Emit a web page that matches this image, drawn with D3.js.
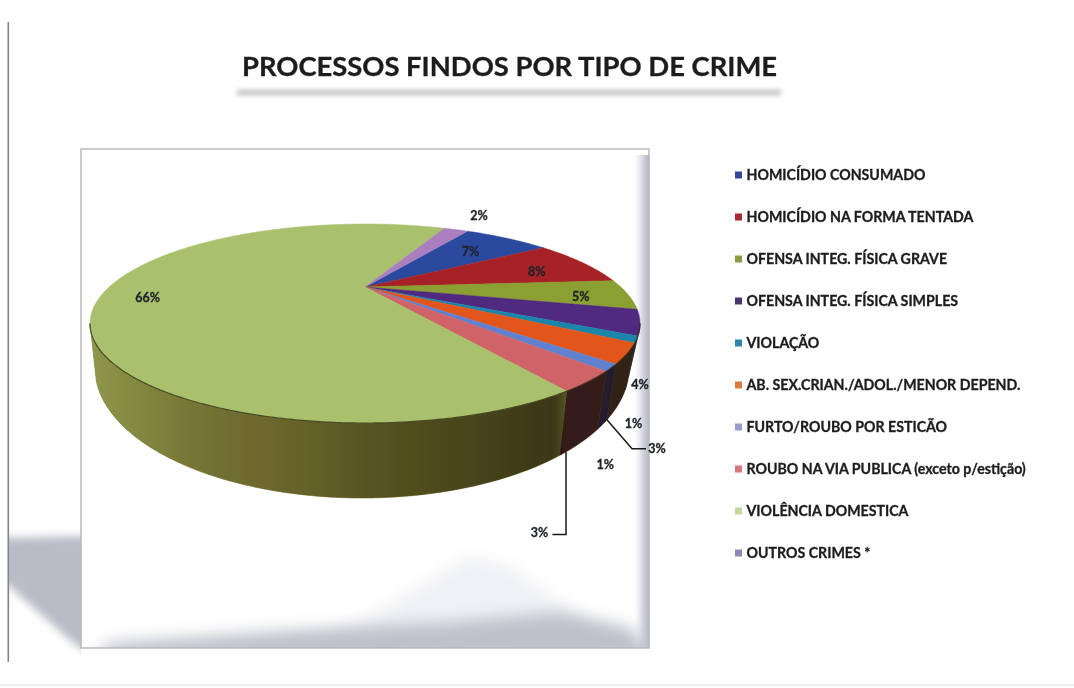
<!DOCTYPE html>
<html lang="pt">
<head>
<meta charset="utf-8">
<title>Processos findos por tipo de crime</title>
<script src="https://cdn.jsdelivr.net/npm/d3@7/dist/d3.min.js"></script>
<style>
  html, body { margin: 0; padding: 0; background: #fff; }
  svg { display: block; }
  text { font-family: Lato, "Open Sans", sans-serif; font-weight: 700; stroke: currentColor; stroke-width: 0.3px; }
</style>
</head>
<body>
<svg id="chart" width="1074" height="688"></svg>
<script>
// Categories and their shares (percent), in drawing order.
const categories = [
  "HOMICÍDIO CONSUMADO",
  "HOMICÍDIO NA FORMA TENTADA",
  "OFENSA INTEG. FÍSICA GRAVE",
  "OFENSA INTEG. FÍSICA SIMPLES",
  "VIOLAÇÃO",
  "AB. SEX.CRIAN./ADOL./MENOR DEPEND.",
  "FURTO/ROUBO POR ESTICÃO",
  "ROUBO NA VIA PUBLICA (exceto p/estição)",
  "VIOLÊNCIA DOMESTICA",
  "OUTROS CRIMES *"
];
const shares = [7, 8, 5, 4, 1, 3, 1, 3, 66, 2];

// Slice colours on the top face, the side wall and the legend key.
const topColors = ["#2b4a9f", "#a62326", "#8b9f30", "#50297f", "#1c86aa", "#e2561c", "#6080d0", "#cf6368", "#a9c06d", "#a97fbf"];
const wallColors = ["#2b2f55", "#4a2020", "#55561f", "#2c2438", "#2a2a30", "#3e2a1c", "#2e2638", "#40221f", "#6b6a2c", "#55406a"];
const keyColors = ["#35479a", "#a52a35", "#8a9c3c", "#4a3570", "#2d87ab", "#e07a3c", "#9c9ccc", "#d9777a", "#c3d89a", "#8a8ab5"];

// Label placement: offset from the middle of each slice's rim.
const labelOffsets = [[-36, 13], [-45, 9], [-47, 2], [0, 62], [-3, 84], [30, 95], [-6, 97], [-49, 151], [45, 4], [23, -14]];

const rad = Math.PI / 180;
const svg = d3.select("#chart");
const defs = svg.append("defs");

// Pie layout: the first slice begins just past twelve o'clock and runs clockwise.
const firstAngle = 31.7 * rad;
const arcs = d3.pie().sort(null).startAngle(firstAngle).endAngle(firstAngle + 2 * Math.PI)(shares);

// Top face: a circle seen in perspective, so the hub sits above the ellipse centre.
const hub = { x: 365, y: 287 };
const persp = { k: 0.367, rx: 255.8, ry: 86.1 };
function rimPoint(a, r = 1) {
  const sx = Math.sin(a) * r, sy = -Math.cos(a) * r;
  const w = 1 - persp.k * sy;
  return [hub.x + persp.rx * sx / w, hub.y + persp.ry * sy / w];
}

// Lower edge of the wall: a second ellipse, reached by carrying the rim point's
// normalised horizontal position across to it.
const topEllipse = { cx: 363.5, rx: 275 };
const lowEllipse = { cx: 362, cy: 368, rx: 267, ry: 130 };
function lowPoint(a) {
  const u = Math.max(-1, Math.min(1, (rimPoint(a)[0] - topEllipse.cx) / topEllipse.rx));
  return [lowEllipse.cx + lowEllipse.rx * u, lowEllipse.cy + lowEllipse.ry * Math.sqrt(1 - u * u)];
}
const sweep = (a0, a1) => {
  const n = Math.max(2, Math.ceil((a1 - a0) / (0.5 * rad)));
  return d3.range(n + 1).map(i => a0 + (a1 - a0) * i / n);
};
const line = d3.line();

// ---- Page furniture ----
function blurFilter(id, deviation, margin) {
  defs.append("filter").attr("id", id)
    .attr("x", `-${margin}%`).attr("y", `-${margin}%`)
    .attr("width", `${100 + 2 * margin}%`).attr("height", `${100 + 2 * margin}%`)
    .append("feGaussianBlur").attr("stdDeviation", deviation);
}
blurFilter("rule", 2.6, 200);
blurFilter("soft4", 4, 20);
blurFilter("soft8", 8, 40);
blurFilter("textSoft", 0.45, 5);
blurFilter("edgeSoft", 0.5, 5);

svg.append("rect").attr("width", 1074).attr("height", 688).attr("fill", "#fff");
svg.append("rect").attr("x", 0).attr("y", 684).attr("width", 1074).attr("height", 2).attr("fill", "#ececec").attr("filter", "url(#edgeSoft)");

// Title and the soft rule underneath it.
svg.append("rect").attr("x", 237).attr("y", 90).attr("width", 544).attr("height", 5).attr("fill", "#bdbdbd").attr("filter", "url(#rule)");
svg.append("text").attr("x", 509.5).attr("y", 76).attr("text-anchor", "middle").attr("font-size", 27.4)
  .attr("fill", "#1c1c1c").style("color", "#1c1c1c").attr("filter", "url(#textSoft)").text("PROCESSOS FINDOS POR TIPO DE CRIME");

// Drop shadow falling to the left of the panel.
defs.append("clipPath").attr("id", "leftClip").append("rect").attr("x", 9).attr("y", 500).attr("width", 72).attr("height", 160);
svg.append("g").attr("clip-path", "url(#leftClip)")
  .append("path").attr("d", line([[0, 538], [90, 536], [90, 655], [70, 640], [11, 588], [0, 580]]))
  .attr("fill", "#b8bcc6").attr("filter", "url(#soft4)");
svg.append("rect").attr("x", 7.5).attr("y", 22).attr("width", 1.6).attr("height", 640).attr("fill", "#7f838b").attr("filter", "url(#edgeSoft)");

// Panel with bevelled right and bottom edges.
const panel = { x: 81, y: 149, w: 568, h: 499 };
defs.append("clipPath").attr("id", "panelClip").append("rect")
  .attr("x", panel.x).attr("y", panel.y).attr("width", panel.w).attr("height", panel.h);
svg.append("rect").attr("x", panel.x).attr("y", panel.y).attr("width", panel.w).attr("height", panel.h).attr("fill", "#fff");
const bevel = svg.append("g").attr("clip-path", "url(#panelClip)");
const rightBand = defs.append("linearGradient").attr("id", "rightBand");
rightBand.append("stop").attr("offset", 0).attr("stop-color", "#fff").attr("stop-opacity", 0);
rightBand.append("stop").attr("offset", 0.6).attr("stop-color", "#d6d8df");
rightBand.append("stop").attr("offset", 1).attr("stop-color", "#b4b8c4");
bevel.append("rect").attr("x", 632).attr("y", 155).attr("width", 17).attr("height", 493).attr("fill", "url(#rightBand)");
bevel.append("path").attr("d", line([[330, 640], [470, 556], [510, 566], [625, 650], [645, 670], [85, 670]]))
  .attr("fill", "#f0f1f4").attr("filter", "url(#soft8)");
bevel.append("path").attr("d", line([[90, 662], [110, 643], [300, 630], [450, 622], [560, 612], [630, 628], [660, 660]]))
  .attr("fill", "#bec1cb").attr("filter", "url(#soft8)");
svg.append("rect").attr("x", panel.x).attr("y", panel.y).attr("width", panel.w).attr("height", panel.h)
  .attr("fill", "none").attr("stroke", "#b4b6bb").attr("stroke-width", 1.4).attr("filter", "url(#edgeSoft)");

// ---- Pie ----
const pie = svg.append("g").attr("filter", "url(#edgeSoft)");

// Visible part of the wall runs between the two points where the rim is widest.
const wallFrom = Math.acos(-persp.k);
const wallTo = 2 * Math.PI - wallFrom;
arcs.forEach((d, i) => {
  for (const turn of [0, 2 * Math.PI]) {
    const a0 = Math.max(d.startAngle - turn, wallFrom);
    const a1 = Math.min(d.endAngle - turn, wallTo);
    if (a1 <= a0) continue;
    const steps = sweep(a0, a1);
    const outline = steps.map(a => rimPoint(a)).concat(steps.slice().reverse().map(a => lowPoint(a)));
    pie.append("path").attr("d", line(outline) + "Z").attr("fill", wallColors[i]).attr("stroke", wallColors[i]).attr("stroke-width", 0.6);
  }
});

// Side light: the wall brightens toward the left and falls steadily into shade on the right.
const wallLight = defs.append("linearGradient").attr("id", "wallLight").attr("gradientUnits", "userSpaceOnUse")
  .attr("x1", 89).attr("x2", 640).attr("y1", 0).attr("y2", 0);
[[0, "#a8b860", 0.6], [0.12, "#98a050", 0.45], [0.3, "#7a6a38", 0.2], [0.5, "#2a2208", 0.3], [0.84, "#1a1408", 0.6], [0.87, "#000", 0.15], [1, "#000", 0.25]].forEach(s => {
  wallLight.append("stop").attr("offset", s[0]).attr("stop-color", s[1]).attr("stop-opacity", s[2]);
});
const wallSteps = sweep(wallFrom, wallTo);
const wallOutline = wallSteps.map(a => rimPoint(a)).concat(wallSteps.slice().reverse().map(a => lowPoint(a)));
pie.append("path").attr("d", line(wallOutline) + "Z").attr("fill", "url(#wallLight)");

// Top face slices.
arcs.forEach((d, i) => {
  const outline = [[hub.x, hub.y]].concat(sweep(d.startAngle, d.endAngle).map(a => rimPoint(a)));
  pie.append("path").attr("d", line(outline) + "Z").attr("fill", topColors[i]).attr("stroke", topColors[i]).attr("stroke-width", 0.5);
});

// Dark edge where the top face meets the wall.
pie.append("path").attr("d", line(wallSteps.map(a => rimPoint(a))))
  .attr("fill", "none").attr("stroke", "#2c2a12").attr("stroke-width", 1.2).attr("stroke-opacity", 0.75);

// Leader lines for the two 3% slices whose labels sit away from the pie.
const labelPoint = i => {
  const p = rimPoint((arcs[i].startAngle + arcs[i].endAngle) / 2);
  return [p[0] + labelOffsets[i][0], p[1] + labelOffsets[i][1]];
};
const orangeAt = lowPoint(arcs[5].endAngle), orangeLabel = labelPoint(5);
const pinkAt = lowPoint(arcs[7].endAngle - 0.15 * (arcs[7].endAngle - arcs[7].startAngle)), pinkLabel = labelPoint(7);
const leaders = [
  [orangeAt, [orangeLabel[0] - 25, orangeLabel[1]], [orangeLabel[0] - 11, orangeLabel[1]]],
  [pinkAt, [pinkAt[0], pinkLabel[1] + 2], [pinkLabel[0] + 13, pinkLabel[1] + 2]]
];
svg.append("g").selectAll("path").data(leaders).join("path")
  .attr("d", line).attr("fill", "none").attr("stroke", "#1a1a1a").attr("stroke-width", 1.5);

// Percentage labels.
svg.append("g").attr("filter", "url(#textSoft)").selectAll("text").data(shares).join("text")
  .attr("x", (d, i) => labelPoint(i)[0])
  .attr("y", (d, i) => labelPoint(i)[1])
  .attr("dy", "0.35em").attr("text-anchor", "middle").attr("font-size", 12.5)
  .attr("fill", "#20242a").style("color", "#20242a")
  .text(d => d + "%");

// ---- Legend ----
const legendY = d3.scalePoint().domain(categories).range([175, 553]);
const legend = svg.append("g").attr("filter", "url(#textSoft)");
const rows = legend.selectAll("g").data(categories).join("g")
  .attr("transform", d => `translate(0,${legendY(d)})`);
rows.append("rect").attr("x", 735).attr("y", -3.5).attr("width", 7).attr("height", 7)
  .attr("fill", (d, i) => keyColors[i]);
rows.append("text").attr("x", 746.5).attr("dy", "0.35em").attr("font-size", 14.2)
  .attr("fill", "#1c1c1c").style("color", "#1c1c1c").text(d => d);
</script>
</body>
</html>
